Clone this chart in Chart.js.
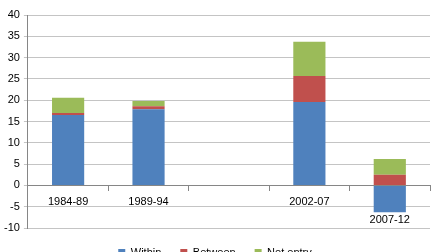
<html lang="en">
<head>
  <meta charset="UTF-8">
  <title>Productivity decomposition</title>
  <script src="https://cdn.jsdelivr.net/npm/chart.js"></script>
  <style>
    html, body { margin: 0; padding: 0; overflow: hidden; background: #fff; }
    #wrap { width: 437px; height: 268px; }
  </style>
</head>
<body>
  <div id="wrap">
    <canvas id="decompChart"></canvas>
  </div>

  <script>
    // categories (third slot is empty in the original)
    const periods = ['1984-89', '1989-94', '', '2002-07', ['', '2007-12']];

    const within   = [16.5, 17.9, null, 19.6, -6.3];
    const between  = [0.5, 0.7, null, 6.1, 2.5];
    const netEntry = [3.6, 1.2, null, 8.0, 3.7];

    const yTicks = { min: -10, max: 40, step: 5 };

    const font = { family: 'Liberation Sans', size: 11 };

    const ctx = document.getElementById('decompChart').getContext('2d');
    new Chart(ctx, {
      type: 'bar',
      data: {
        labels: periods,
        datasets: [
          { label: 'Within', data: within, backgroundColor: '#4F81BD' },
          { label: 'Between', data: between, backgroundColor: '#C0504D' },
          { label: 'Net entry', data: netEntry, backgroundColor: '#9BBB59' }
        ]
      },
      options: {
        responsive: true,
        maintainAspectRatio: false,
        animation: false,
        categoryPercentage: 0.8,
        barPercentage: 0.5,
        layout: { padding: { top: 15, right: 7, left: 0, bottom: 0 } },
        plugins: {
          tooltip: { enabled: false },
          legend: {
            position: 'bottom',
            labels: {
              boxWidth: 7,
              boxHeight: 7,
              padding: 19,
              color: '#000',
              font: font
            }
          }
        },
        scales: {
          x: {
            stacked: true,
            position: { y: 0 },
            border: { color: '#868686' },
            grid: {
              offset: true,
              drawOnChartArea: false,
              drawTicks: true,
              tickLength: 5,
              color: '#868686'
            },
            ticks: {
              color: '#000',
              padding: 3,
              maxRotation: 0,
              autoSkip: false,
              font: { family: font.family, size: font.size, lineHeight: 1.6 }
            }
          },
          y: {
            stacked: true,
            min: yTicks.min,
            max: yTicks.max,
            border: { color: '#868686' },
            grid: { color: '#c4c4c4', tickLength: 4 },
            ticks: {
              stepSize: yTicks.step,
              color: '#000',
              padding: 4,
              font: font
            }
          }
        }
      }
    });
  </script>
</body>
</html>
